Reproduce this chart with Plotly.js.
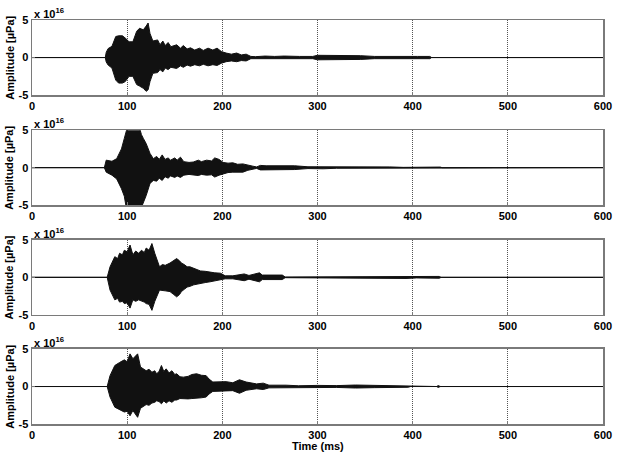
<!DOCTYPE html>
<html>
<head>
<meta charset="utf-8">
<script src="https://cdn.plot.ly/plotly-3.0.1.min.js"></script>
<style>html,body{margin:0;padding:0;background:#fff}#chart{width:622px;height:455px}</style>
</head>
<body>
<div id="chart"></div>
<script>
// Envelope of each waveform (upper / lower), amplitude in units of 1e16 µPa, time in ms
var t1 = [0,77,78,80,84,88,91,95,98,102,106,110,113,117,120,122,124,127,132,134.5,137.5,140,143,146,152,156,159,163,166.5,171,176,180,185,190,194.5,199,204,209.5,215,220,225,230,235,245,255,265,281,295,300,310,320,327,333,345,360,375,392,395,405,418,420,600];
var up1 = [0,0,0.7,1.2,1.5,2.8,2.9,2.9,2.6,2.1,2.1,3.5,3.9,3.7,4.2,4.6,3.2,2.2,2.35,1.7,2.2,1.6,2.0,1.45,1.7,1.25,1.6,1.15,1.3,1.0,1.25,0.95,1.25,1.0,1.25,0.8,0.6,0.45,0.6,0.35,0.45,0.15,0.12,0.2,0.15,0.2,0.15,0.15,0.3,0.3,0.3,0.25,0.25,0.25,0.15,0.12,0.12,0.15,0.15,0.15,0,0];
var lo1 = [0,0,-0.6,-1.0,-1.4,-3.0,-3.4,-3.4,-3.2,-2.5,-2.5,-3.6,-3.8,-4.1,-4.5,-4.3,-3.2,-2.1,-2.0,-1.6,-1.9,-1.4,-1.6,-1.3,-1.45,-1.1,-1.3,-1.0,-1.15,-0.95,-1.1,-0.9,-1.1,-0.95,-1.05,-0.75,-0.55,-0.45,-0.55,-0.4,-0.45,-0.15,-0.12,-0.2,-0.15,-0.2,-0.15,-0.15,-0.3,-0.3,-0.3,-0.25,-0.25,-0.25,-0.15,-0.12,-0.12,-0.15,-0.15,-0.15,0,0];

var t2 = [0,76,78,84,89,94,97,99,100,113,115,117,120,124,127.5,131,133.7,136.8,139.8,143,145.6,150,152.5,156,159.5,165,169.5,174.8,178,183.5,188.7,192,196.6,200.8,206,211,216,221.6,226.8,232,236,240,246,260,276,290,299,306,320,337,345,364,371,376,390,404,429,431,600];
var up2 = [0,0,1.0,0.85,1.2,2.5,3.9,4.8,5.3,5.3,4.4,3.9,3.2,1.9,1.2,1.5,1.1,1.7,1.1,1.3,1.0,1.3,1.0,1.4,0.8,0.7,0.75,1.0,0.8,1.0,0.9,1.3,1.1,0.7,0.6,0.65,0.45,0.5,0.3,0.2,0.1,0.3,0.25,0.25,0.25,0.12,0.12,0.15,0.08,0.08,0.08,0.08,0.1,0.1,0.04,0.08,0.08,0,0];
var lo2 = [0,0,-0.6,-1.0,-1.5,-2.8,-3.8,-5.3,-5.3,-5.3,-5.3,-4.5,-3.7,-2.1,-1.7,-1.8,-1.4,-1.7,-1.2,-1.4,-1.1,-1.3,-1.1,-1.3,-1.0,-0.9,-1.0,-1.05,-0.9,-1.0,-0.95,-1.25,-1.0,-0.8,-0.65,-0.6,-0.55,-0.6,-0.35,-0.2,-0.1,-0.3,-0.25,-0.25,-0.25,-0.12,-0.12,-0.15,-0.08,-0.08,-0.08,-0.08,-0.1,-0.1,-0.04,-0.08,-0.08,0,0];

var t3 = [0,79,82,87,90,92,95,97,100,103,106,109,112,115,118,120,123,126,129,134,137,140,145,149,152,155,157,160,163,166,170,177,182,187,192,198,203,211,223,228,236,239,242,246,263,266,299,302,306,323,358,360,393,404,421,428,430,600];
var up3 = [0,0,1.4,2.75,2.5,3.2,3.0,3.6,3.4,4.3,3.0,3.5,3.2,3.6,3.3,3.9,3.6,4.5,3.2,1.4,1.7,1.6,1.9,2.3,2.5,2.2,1.9,1.7,1.4,1.4,1.2,0.85,0.8,0.65,0.6,0.55,0.2,0.2,0.45,0.25,0.5,0.6,0.3,0.3,0.3,0.05,0.05,0.1,0.05,0.08,0.08,0.15,0.15,0.08,0.08,0.12,0,0];
var lo3 = [0,0,-1.7,-3.0,-2.8,-3.3,-3.2,-3.5,-3.4,-4.1,-3.0,-3.2,-3.0,-3.2,-3.3,-3.5,-3.6,-4.4,-3.2,-1.7,-1.8,-1.8,-1.9,-2.3,-2.6,-2.3,-1.9,-1.6,-1.3,-1.2,-1.0,-0.8,-0.7,-0.6,-0.45,-0.35,-0.2,-0.2,-0.45,-0.25,-0.5,-0.6,-0.3,-0.3,-0.3,-0.05,-0.05,-0.1,-0.05,-0.08,-0.08,-0.15,-0.15,-0.08,-0.08,-0.12,0,0];

var t4 = [0,79,82,87,92,97,100,103,106,108.5,111,114,117,120,123,126,129,131,133.5,136,138.5,141,144,147,150,152,155.5,159,164,168,173,178,183,186,190,197,204,211,218,225,236,243,249,267,280,300,320,340,360,395,398,425,427,429,600];
var up4 = [0,0,1.45,2.8,3.2,3.55,3.3,4.35,3.7,4.0,4.35,2.6,2.4,2.1,2.3,1.9,2.1,1.7,2.0,2.8,2.0,2.35,1.8,2.1,1.6,1.7,1.3,1.25,1.35,1.6,1.7,1.5,1.45,1.0,0.6,0.6,0.65,0.5,0.9,0.6,0.35,0.45,0.18,0.18,0.1,0.15,0.12,0.2,0.15,0.1,0,0,0.12,0,0];
var lo4 = [0,0,-1.4,-2.75,-3.1,-3.4,-3.3,-3.9,-3.2,-3.6,-4.1,-2.9,-2.6,-2.4,-2.5,-2.2,-2.1,-1.9,-2.0,-2.3,-1.9,-2.2,-1.9,-2.1,-1.8,-1.8,-1.6,-1.65,-1.65,-1.6,-1.6,-1.5,-1.4,-1.0,-0.65,-0.55,-0.55,-0.55,-0.9,-0.5,-0.3,-0.4,-0.18,-0.18,-0.1,-0.15,-0.12,-0.2,-0.15,-0.1,0,0,-0.12,0,0];

var xTicks = [0,100,200,300,400,500,600];
var yTicks = [-5,0,5];
var yLabel = 'Amplitude [\u00b5Pa]';
var xLabel = 'Time (ms)';
var expLabel = 'x 10<sup>16</sup>';

var series = [[t1,up1,lo1],[t2,up2,lo2],[t3,up3,lo3],[t4,up4,lo4]];
var domains = [[0.791,0.956],[0.549,0.714],[0.308,0.473],[0.068,0.233]];

var FONT = {family:'Liberation Sans, Arial, sans-serif', size:11, color:'#000', weight:'bold'};
var data = [];
var layout = {
  width:622, height:455,
  margin:{l:32, r:19, t:0, b:0},
  paper_bgcolor:'#fff', plot_bgcolor:'#fff',
  showlegend:false,
  annotations:[]
};

series.forEach(function(s, i){
  var n = i+1;
  var sx = n===1 ? '' : String(n);
  var xs = s[0].concat(s[0].slice().reverse());
  var ys = s[1].concat(s[2].slice().reverse());
  data.push({
    type:'scatter', mode:'lines', x:xs, y:ys,
    xaxis:'x'+sx, yaxis:'y'+sx,
    fill:'toself', fillcolor:'#111',
    line:{color:'#111', width:1},
    hoverinfo:'skip'
  });
  layout['xaxis'+sx] = {
    domain:[0,1], anchor:'y'+sx, range:[0,600],
    tickvals:xTicks, ticktext:xTicks.map(String),
    showgrid:true, gridcolor:'#555', griddash:'1px,1px', gridwidth:1,
    zeroline:false, showline:true, mirror:true, linecolor:'#7a7a7a', linewidth:1.5,
    ticks:'inside', ticklen:3, tickcolor:'#7a7a7a',
    tickfont:FONT, fixedrange:true
  };
  layout['yaxis'+sx] = {
    domain:domains[i], anchor:'x'+sx, range:[-5,5],
    tickvals:yTicks, ticktext:yTicks.map(String),
    showgrid:false, zeroline:true, zerolinecolor:'#444', zerolinewidth:1,
    showline:true, mirror:true, linecolor:'#7a7a7a', linewidth:1.5,
    ticks:'inside', ticklen:3, tickcolor:'#7a7a7a',
    tickfont:FONT, fixedrange:true
  };
  layout.annotations.push({
    xref:'paper', yref:'paper', x:0, y:domains[i][1], xanchor:'left', yanchor:'bottom',
    text:expLabel, showarrow:false, font:FONT, xshift:0, yshift:-2
  });
  layout.annotations.push({
    xref:'paper', yref:'paper', x:-0.040, y:(domains[i][0]+domains[i][1])/2,
    xanchor:'center', yanchor:'middle', textangle:-90,
    text:yLabel, showarrow:false, font:FONT
  });
});
layout.annotations.push({
  xref:'paper', yref:'paper', x:0.5, y:0.0, xanchor:'center', yanchor:'bottom',
  text:xLabel, showarrow:false, font:FONT, yshift:1
});

Plotly.newPlot('chart', data, layout, {staticPlot:true, displayModeBar:false});
</script>
</body>
</html>
